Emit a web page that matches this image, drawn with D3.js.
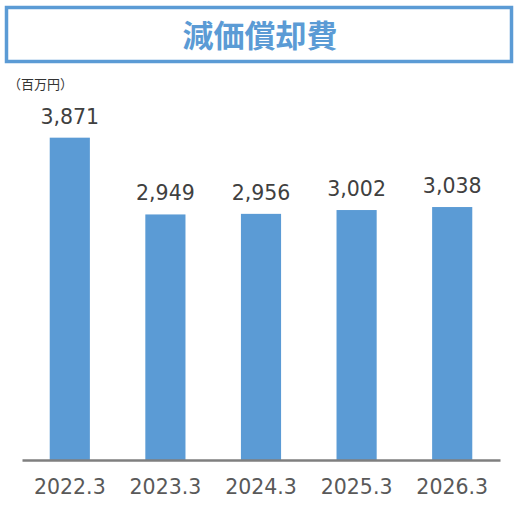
<!DOCTYPE html>
<html>
  <head>
    <meta charset="utf-8" />
    <title>減価償却費</title>
    <script src="https://cdn.jsdelivr.net/npm/d3@7/dist/d3.min.js"></script>
    <style type="text/css">
      html, body { margin: 0; padding: 0; background: #fff; }
      svg { display: block; }
      .val { font-family: "DejaVu Sans", sans-serif; font-size: 20.5px; fill: #404040; }
      .cat { font-family: "DejaVu Sans", sans-serif; font-size: 20.5px; fill: #595959; }
    </style>
  </head>
  <body>
    <svg id="chart" width="527" height="513"></svg>

    <script type="text/javascript">

    var title = '減価償却費',
        unit = '（百万円）',
        categories = ['2022.3', '2023.3', '2024.3', '2025.3', '2026.3'],
        values = [3871, 2949, 2956, 3002, 3038];

    var blue = '#5b9bd5';

    var svg = d3.select('#chart');

    // title box
    svg.append('rect')
       .attr('x', 6.5)
       .attr('y', 7.5)
       .attr('width', 505)
       .attr('height', 54)
       .attr('fill', '#fff')
       .attr('stroke', blue)
       .attr('stroke-width', 3.5);

    svg.append('text')
       .attr('x', 260)
       .attr('y', 47)
       .attr('text-anchor', 'middle')
       .style('font-family', '"Noto Sans CJK JP", sans-serif')
       .style('font-weight', 'bold')
       .style('font-size', '31px')
       .attr('fill', blue)
       .text(title);

    svg.append('text')
       .attr('x', 8)
       .attr('y', 89)
       .style('font-family', '"Noto Sans CJK JP", sans-serif')
       .style('font-size', '13px')
       .attr('fill', '#333')
       .text(unit);

    var x = d3.scaleBand()
              .domain(categories)
              .range([22, 500])
              .paddingInner(0.58)
              .paddingOuter(0.29);

    var y = d3.scaleLinear()
              .domain([0, 4500])
              .range([460, 85.3]);

    svg.selectAll('.bar')
       .data(values)
       .enter()
       .append('rect')
        .attr('class', 'bar')
        .attr('x', function(d, i) { return x(categories[i]); })
        .attr('y', function(d) { return y(d); })
        .attr('width', x.bandwidth())
        .attr('height', function(d) { return y(0) - y(d); })
        .attr('fill', blue);

    svg.selectAll('.val')
       .data(values)
       .enter()
       .append('text')
        .attr('class', 'val')
        .attr('x', function(d, i) { return x(categories[i]) + x.bandwidth() / 2; })
        .attr('y', function(d) { return y(d) - 14; })
        .attr('text-anchor', 'middle')
        .text(d3.format(','));

    var axis = svg.append('g')
                  .attr('transform', 'translate(0,' + y(0) + ')')
                  .call(d3.axisBottom(x).tickSize(0).tickPadding(19));

    axis.select('.domain')
        .attr('stroke', '#7f7f7f')
        .attr('stroke-width', 2.5);

    axis.selectAll('.tick text')
        .attr('class', 'cat')
        .attr('fill', null)
        .style('font-size', null)
        .style('font-family', null);

    </script>
  </body>
</html>
